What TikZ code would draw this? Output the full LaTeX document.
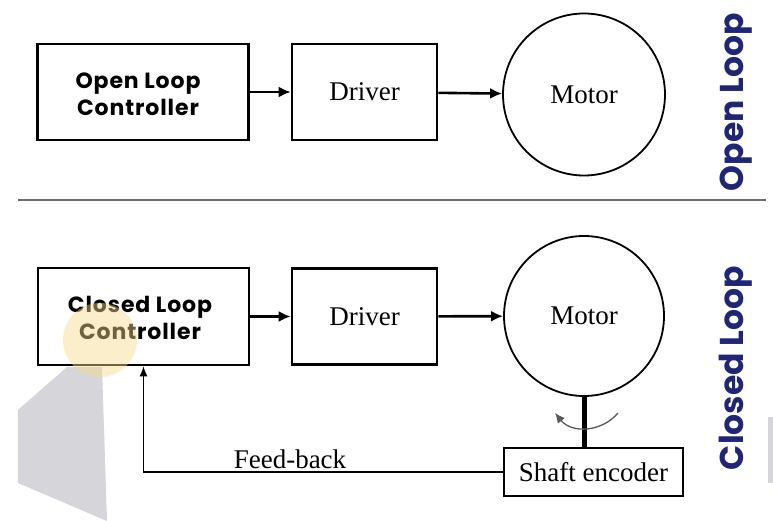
\documentclass[tikz,border=0pt]{standalone}
\usepackage{fontspec}
\setmainfont{Liberation Serif}
\newfontfamily\gothic{Poppins}[LetterSpace=4]
\newfontfamily\gothicside{Poppins}
\usetikzlibrary{arrows.meta}
\definecolor{navy}{RGB}{32,38,118}
\definecolor{hilite}{RGB}{246,218,140}
\definecolor{greyshape}{RGB}{213,213,218}
\tikzset{
  blockbox/.style={draw=black, line width=2.6pt, rectangle, inner sep=0pt},
  motorbox/.style={draw=black, line width=1.8pt, circle, inner sep=0pt, minimum size=162pt},
  serif/.style={font=\fontsize{27}{27}\selectfont},
  ctrl/.style={font=\gothic\bfseries\fontsize{22}{27}\selectfont, align=center},
  side/.style={font=\gothicside\bfseries\fontsize{33}{33}\selectfont, text=navy, rotate=90},
  flow/.style={line width=2.6pt, -{Latex[length=12pt,width=11pt]}},
  back/.style={line width=1.4pt, -{Latex[length=10pt,width=8pt]}},
}
\begin{document}
\begin{tikzpicture}[x=1pt,y=-1pt]
\path[use as bounding box, fill=white] (0,0) rectangle (773,521);
% decorative shapes
\fill[greyshape] (18,410) -- (67,367) -- (102,367) -- (107,521) -- (18,483) -- cycle;
\fill[greyshape] (768,417) rectangle (773,483);
% separator
\draw[gray!85!black, line width=2pt] (18,200) -- (766,200);
% open loop
\node[blockbox, minimum width=211pt, minimum height=96pt] (olc) at (143,92) {};
\node[ctrl] (olct) at (138,94) {Open Loop\\Controller};
\node[blockbox, minimum width=145pt, minimum height=96pt, serif] (od) at (364.5,92) {Driver};
\node[motorbox, serif] (om) at (584,94.5) {Motor};
\draw[flow] (olc) -- (od);
\draw[flow] (od) -- (om);
\node[side] (olab) at (736,102) {Open Loop};
% closed loop
\node[blockbox, minimum width=211pt, minimum height=97pt] (clc) at (143.5,316.5) {};
\node[ctrl] (clct) at (140,318) {Closed Loop\\Controller};
\node[blockbox, minimum width=145pt, minimum height=96pt, serif] (cd) at (364.5,316.5) {Driver};
\node[motorbox, minimum size=160pt, serif] (cm) at (584,316) {Motor};
\node[blockbox, minimum width=179pt, minimum height=48pt, serif] (enc) at (593.5,472) {Shaft encoder};
\draw[flow] (clc) -- (cd);
\draw[flow] (cd) -- (cm);
\draw[line width=5pt] (cm.south) -- (cm.south |- enc.north);
\coordinate (rotA) at (618,413);
\coordinate (rotB) at (555,413);
\draw[gray!70!black, line width=1.3pt, -{Latex[length=10pt,width=9pt]}] (rotA) .. controls (602,432) and (572,434) .. (rotB);
\draw[back] (enc.west) -| (clc.south);
\node[serif, anchor=base] (fb) at (290,468) {Feed-back};
\node[side] (clab) at (736,368) {Closed Loop};
% highlight
\fill[hilite, opacity=0.45] (100,340) circle (37);
\end{tikzpicture}
\end{document}
